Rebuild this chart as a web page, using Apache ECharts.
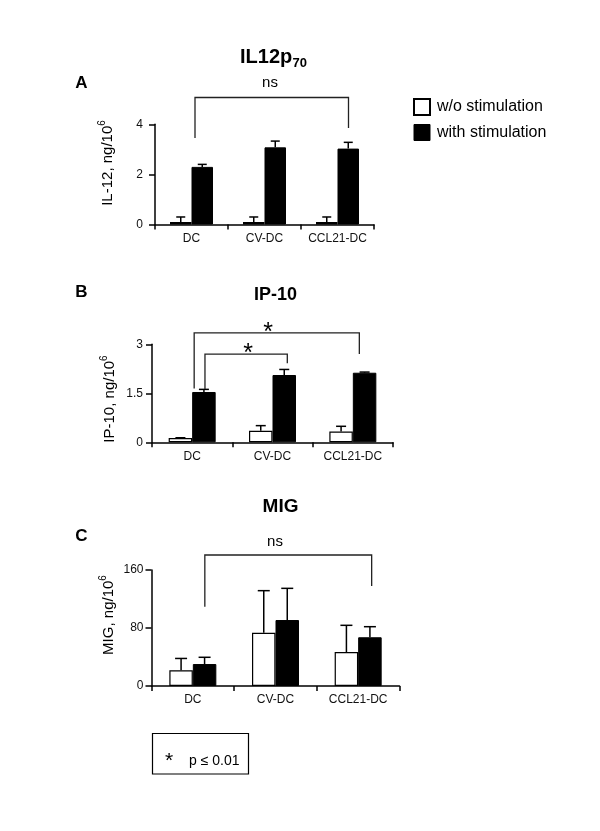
<!DOCTYPE html>
<html>
<head>
<meta charset="utf-8">
<script src="https://cdn.jsdelivr.net/npm/echarts@6/dist/echarts.min.js"></script>
<style>html,body{margin:0;padding:0;background:#fff}#c{width:600px;height:831px}</style>
</head>
<body>
<div id="c"></div>
<script>
// ---------- data ----------
const categories = ['DC', 'CV-DC', 'CCL21-DC'];
const seriesNames = ['w/o stimulation', 'with stimulation'];

const il12Without = [0.1, 0.1, 0.1];
const il12WithoutErr = [0.2, 0.2, 0.2];
const il12With = [2.3, 3.08, 3.03];
const il12WithErr = [0.1, 0.25, 0.25];
const il12Ticks = [0, 2, 4];

const ip10Without = [0.13, 0.35, 0.33];
const ip10WithoutErr = [0.01, 0.16, 0.16];
const ip10With = [1.54, 2.06, 2.13];
const ip10WithErr = [0.08, 0.17, 0.02];
const ip10Ticks = [0, 1.5, 3];

const migWithout = [21.7, 73.5, 46.9];
const migWithoutErr = [16.3, 58, 36.8];
const migWith = [30.3, 91, 67.2];
const migWithErr = [9.3, 43.7, 14.6];
const migTicks = [0, 80, 160];

// significance brackets: [fromCategory, toCategory, topValue, leftEndValue, rightEndValue]
const il12Brackets = [[0, 2, 5.07, 3.45, 3.85]];
const ip10Brackets = [[0, 2, 3.35, 1.65, 2.7], [0, 1, 2.7, 1.63, 2.42]];
const migBrackets = [[0, 2, 180.7, 109.4, 138]];

// ---------- styles ----------
const FONT = '"Liberation Sans", Arial, Helvetica, sans-serif';
const panels = [
  {grid: {left: 155, top: 124.3, width: 219, height: 100.2}, barW: 21.5, cap: 4.5, labelMargin: 12,
   w: il12Without, we: il12WithoutErr, s: il12With, se: il12WithErr, ticks: il12Ticks,
   br: il12Brackets, brOff: [[3.5, 11]]},
  {grid: {left: 152, top: 344.3, width: 241, height: 98}, barW: 23.5, cap: 5, labelMargin: 9,
   w: ip10Without, we: ip10WithoutErr, s: ip10With, se: ip10WithErr, ticks: ip10Ticks,
   br: ip10Brackets, brOff: [[2, 6.5], [12.8, 14.8]]},
  {grid: {left: 151.5, top: 570, width: 248, height: 116}, barW: 23.5, cap: 6, labelMargin: 8,
   w: migWithout, we: migWithoutErr, s: migWith, se: migWithErr, ticks: migTicks,
   br: migBrackets, brOff: [[12, 13.5]]}
];

const axisLine = {show: true, lineStyle: {color: '#000', width: 1.5}};

function errRender(offset, cap) {
  return function (params, api) {
    const c = api.value(0), m = api.value(1), e = api.value(2);
    const p0 = api.coord([c, m]);
    const p1 = api.coord([c, m + e]);
    const x = p0[0] + offset;
    const st = {stroke: '#000', lineWidth: 1.5};
    return {type: 'group', children: [
      {type: 'line', shape: {x1: x, y1: p0[1], x2: x, y2: p1[1]}, style: st},
      {type: 'line', shape: {x1: x - cap, y1: p1[1], x2: x + cap, y2: p1[1]}, style: st}
    ]};
  };
}
function bracketRender(offsets) {
  return function (params, api) {
    const off = offsets[params.dataIndex];
    const a = api.value(0), b = api.value(1), top = api.value(2), le = api.value(3), re = api.value(4);
    const pT1 = api.coord([a, top]), pT2 = api.coord([b, top]);
    const pL = api.coord([a, le]), pR = api.coord([b, re]);
    const xl = pT1[0] + off[0], xr = pT2[0] + off[1];
    return {type: 'polyline', shape: {points: [[xl, pL[1]], [xl, pT1[1]], [xr, pT2[1]], [xr, pR[1]]]},
      style: {stroke: '#222', lineWidth: 1.3, fill: null}};
  };
}

const grids = [], xAxes = [], yAxes = [], series = [];
panels.forEach((p, i) => {
  grids.push(p.grid);
  xAxes.push({type: 'category', gridIndex: i, data: categories,
    axisLine: axisLine, axisTick: {show: true, length: 5, lineStyle: {color: '#000', width: 1.5}},
    axisLabel: {interval: 0, fontSize: 12, color: '#111', margin: 8, fontFamily: FONT}});
  const interval = p.ticks[1] - p.ticks[0];
  yAxes.push({type: 'value', gridIndex: i, min: p.ticks[0], max: p.ticks[p.ticks.length - 1], interval: interval,
    splitLine: {show: false}, axisLine: axisLine,
    axisTick: {show: true, length: 6, lineStyle: {color: '#000', width: 1.5}},
    axisLabel: {fontSize: 12, color: '#111', margin: p.labelMargin, fontFamily: FONT}});
  series.push({type: 'bar', name: seriesNames[0], xAxisIndex: i, yAxisIndex: i, data: p.w,
    barWidth: p.barW, barGap: '0%', itemStyle: {color: '#fff', borderColor: '#000', borderWidth: 1.2}, z: 2});
  series.push({type: 'bar', name: seriesNames[1], xAxisIndex: i, yAxisIndex: i, data: p.s,
    barWidth: p.barW, barGap: '0%', itemStyle: {color: '#000', borderColor: '#000', borderWidth: 1}, z: 2});
  series.push({type: 'custom', name: 'err-w-' + i, xAxisIndex: i, yAxisIndex: i, z: 3, clip: false,
    renderItem: errRender(-p.barW / 2, p.cap), encode: {x: 0, y: 1},
    data: p.w.map((v, k) => [k, v, p.we[k]])});
  series.push({type: 'custom', name: 'err-s-' + i, xAxisIndex: i, yAxisIndex: i, z: 3, clip: false,
    renderItem: errRender(p.barW / 2, p.cap), encode: {x: 0, y: 1},
    data: p.s.map((v, k) => [k, v, p.se[k]])});
  series.push({type: 'custom', name: 'br-' + i, xAxisIndex: i, yAxisIndex: i, z: 3, clip: false,
    renderItem: bracketRender(p.brOff), encode: {x: 0, y: 2},
    data: p.br});
});

function txt(x, y, text, size, opts) {
  opts = opts || {};
  return {type: 'text', x: x, y: y, rotation: opts.rotation || 0, z: 10,
    style: Object.assign({text: text, fontSize: size, fontFamily: FONT, fill: '#000',
      fontWeight: opts.bold ? 'bold' : 'normal', align: opts.align || 'center', verticalAlign: 'middle'}, opts.style || {})};
}
function ylabel(x, y, main) {
  return {type: 'text', x: x, y: y, rotation: Math.PI / 2, z: 10,
    style: {text: '{m|' + main + '}{s|6}', align: 'center', verticalAlign: 'middle',
      rich: {m: {fontSize: 15, fontFamily: FONT, fill: '#000', lineHeight: 18, verticalAlign: 'bottom'},
             s: {fontSize: 10, fontFamily: FONT, fill: '#000', lineHeight: 18, verticalAlign: 'top'}}}};
}

const graphics = [
  // panel A
  txt(240, 57, 'IL12p', 20, {bold: true, align: 'left'}),
  txt(292.5, 63, '70', 13, {bold: true, align: 'left'}),
  txt(81.5, 83, 'A', 17, {bold: true}),
  txt(270, 83, 'ns', 15),
  ylabel(106, 163, 'IL-12, ng/10'),
  // panel B
  txt(275.5, 295, 'IP-10', 18, {bold: true}),
  txt(81.5, 292, 'B', 17, {bold: true}),
  txt(268, 333, '*', 25),
  txt(248, 354, '*', 25),
  ylabel(108, 399, 'IP-10, ng/10'),
  // panel C
  txt(280.5, 507, 'MIG', 19, {bold: true}),
  txt(81.5, 536.5, 'C', 17, {bold: true}),
  txt(275, 541.5, 'ns', 15),
  ylabel(107, 615, 'MIG, ng/10'),
  // footnote box
  {type: 'rect', shape: {x: 152.5, y: 733.5, width: 96, height: 40.5}, style: {fill: '#fff', stroke: '#000', lineWidth: 1.2}, z: 9},
  txt(169, 761, '*', 21),
  txt(189, 761.5, 'p \u2264 0.01', 14, {align: 'left'})
];

const chart = echarts.init(document.getElementById('c'), null, {renderer: 'canvas'});
chart.setOption({
  animation: false,
  backgroundColor: '#fff',
  textStyle: {fontFamily: FONT},
  grid: grids,
  xAxis: xAxes,
  yAxis: yAxes,
  legend: {
    orient: 'vertical', left: 408, top: 93, icon: 'rect', itemWidth: 16, itemHeight: 16, itemGap: 8,
    selectedMode: false,
    textStyle: {fontSize: 16, color: '#000', fontFamily: FONT, padding: [0, 0, 0, 2]},
    data: [
      {name: seriesNames[0], itemStyle: {color: '#fff', borderColor: '#000', borderWidth: 2}},
      {name: seriesNames[1], itemStyle: {color: '#000', borderColor: '#000', borderWidth: 1}}
    ]
  },
  series: series,
  graphic: graphics
});
</script>
</body>
</html>
